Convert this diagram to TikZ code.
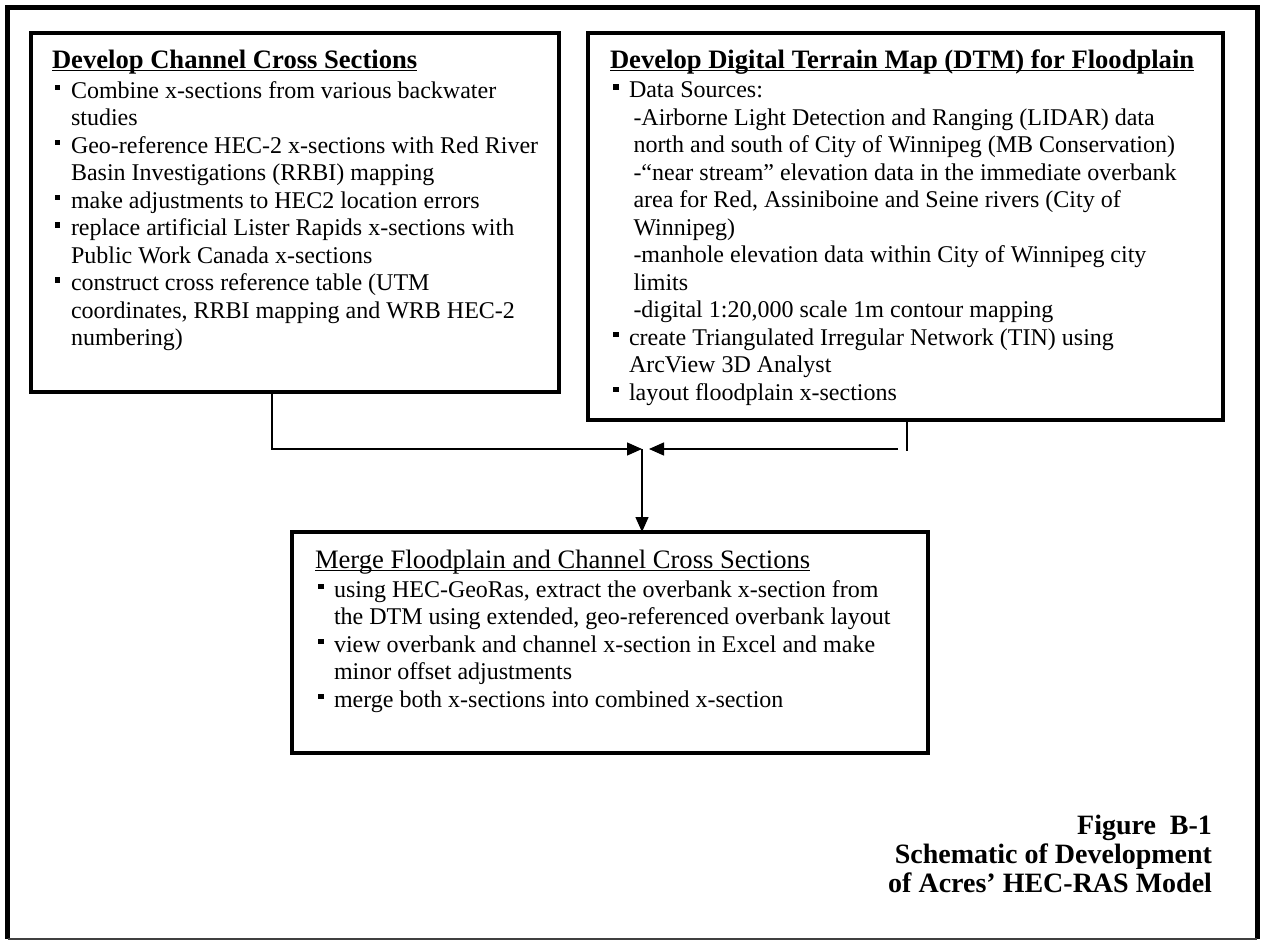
\documentclass[tikz,border=0pt]{standalone}
\usepackage{fontspec}
\setmainfont{Liberation Serif}[Ligatures=NoCommon]
\usetikzlibrary{arrows.meta}
\newcommand\ulbox[1]{\setbox0\hbox{#1}\rlap{\rule[-3pt]{\wd0}{1.4pt}}\box0}
\newcommand\mybul{\makebox[19pt][l]{\hspace*{3pt}\rule[7.7pt]{5.5pt}{5.5pt}}}
\newcommand\myind{\hspace*{19pt}}
\newcommand\mysub{\hspace*{23.5pt}}
\begin{document}
\begin{tikzpicture}[x=1pt,y=-1pt,
  box/.style={draw, line width=4pt, inner sep=0pt, outer sep=0pt, anchor=north west},
  body/.style={anchor=north west, inner sep=0pt, outer sep=0pt, align=left,
    font=\fontsize{24}{27.5}\selectfont},
  ttl/.style={},
  conn/.style={line width=1.4pt},
  arr/.style={-{Triangle[length=15pt,width=13pt]}}]
\useasboundingbox (0,0) rectangle (1264,942);
\fill[white] (0,0) rectangle (1264,942);
% outer frame
\draw[line width=5pt] (7.5,939) -- (7.5,7.5) -- (1257,7.5) -- (1257,939);
\draw[line width=2pt, black!75] (7.5,939) -- (1257,939);
% boxes
\node[box, minimum width=528pt, minimum height=359pt] (chan) at (31,33) {};
\node[box, minimum width=635pt, minimum height=387pt] (dtm) at (588,33) {};
\node[box, minimum width=636pt, minimum height=221pt] (merge) at (292,532) {};
% texts
\node[body] (chantxt) at (52,38) {\rule{0pt}{30pt}{\fontsize{26.6}{27.5}\selectfont\bfseries\ulbox{Develop Channel Cross Sections}}\\[2.5pt]
\mybul Combine x-sections from various backwater\\
\myind studies\\
\mybul Geo-reference HEC-2 x-sections with Red River\\
\myind Basin Investigations (RRBI) mapping\\
\mybul make adjustments to HEC2 location errors\\
\mybul replace artificial Lister Rapids x-sections with\\
\myind Public Work Canada x-sections\\
\mybul construct cross reference table (UTM\\
\myind coordinates, RRBI mapping and WRB HEC-2\\
\myind numbering)};
\node[body] (dtmtxt) at (610,38) {\rule{0pt}{30pt}{\fontsize{26.6}{27.5}\selectfont\bfseries\ulbox{Develop Digital Terrain Map (DTM) for Floodplain}}\\[2pt]
\mybul Data Sources:\\
\mysub -Airborne Light Detection and Ranging (LIDAR) data\\
\mysub north and south of City of Winnipeg (MB Conservation)\\
\mysub -“near stream” elevation data in the immediate overbank\\
\mysub area for Red, Assiniboine and Seine rivers (City of\\
\mysub Winnipeg)\\
\mysub -manhole elevation data within City of Winnipeg city\\
\mysub limits\\
\mysub -digital 1:20,000 scale 1m contour mapping\\
\mybul create Triangulated Irregular Network (TIN) using\\
\myind ArcView 3D Analyst\\
\mybul layout floodplain x-sections};
\node[body] (mergetxt) at (315,538) {\rule{0pt}{30pt}{\fontsize{26.6}{27.5}\selectfont\ulbox{Merge Floodplain and Channel Cross Sections}}\\[1.5pt]
\mybul using HEC-GeoRas, extract the overbank x-section from\\
\myind the DTM using extended, geo-referenced overbank layout\\
\mybul view overbank and channel x-section in Excel and make\\
\myind minor offset adjustments\\
\mybul merge both x-sections into combined x-section};
% caption
\node[anchor=north east, inner sep=0pt, outer sep=0pt, align=right,
  font=\fontsize{28}{29}\selectfont\bfseries] (cap) at (1212,804)
  {\rule{0pt}{30pt}Figure\ \ B-1\\ Schematic of Development\\ of Acres’ HEC-RAS Model};
% connectors
\coordinate (lj) at (272,449);
\coordinate (jn) at (642,449);
\coordinate (rj) at (907,450.5);
\coordinate (rh) at (898,449);
\coordinate (jr) at (649,449);
\draw[conn, arr] (chan.south -| lj) |- (jn);
\draw[conn] (dtm.south -| rj) -- (rj);
\draw[conn, arr] (rh) -- (jr);
\draw[conn, arr] (jn) -- (merge.north -| jn);
\end{tikzpicture}
\end{document}
